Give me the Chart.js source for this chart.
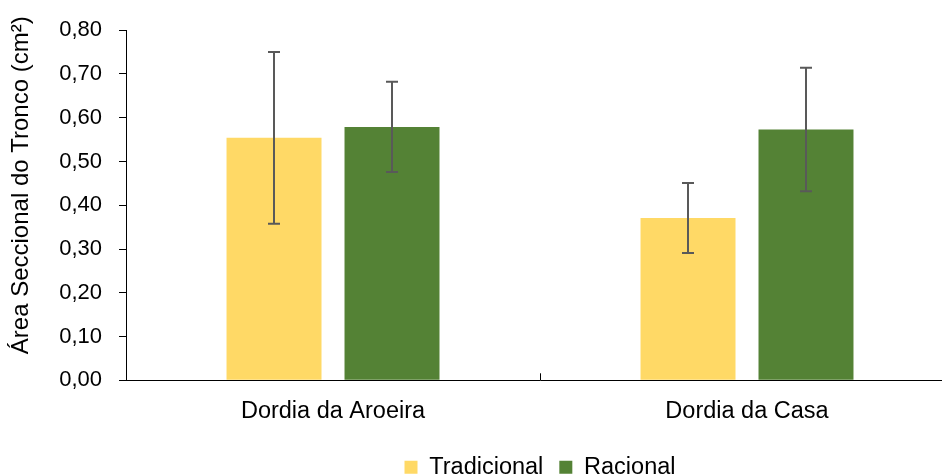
<!DOCTYPE html>
<html>
<head>
<meta charset="utf-8">
<script src="https://cdn.jsdelivr.net/npm/chart.js@4.4.0/dist/chart.umd.min.js"></script>
<style>
  html, body { margin: 0; padding: 0; background: #fff; overflow: hidden; }
  #wrap { width: 956px; height: 476px; }
</style>
</head>
<body>
<div id="wrap"><canvas id="myChart" width="956" height="476"></canvas></div>
<script>
// data
const categories = ['Dordia da Aroeira', 'Dordia da Casa'];
const seriesNames = ['Tradicional', 'Racional'];
const tradicional = [0.554, 0.371];
const racional = [0.579, 0.573];
const tradicionalErr = [0.196, 0.080];
const racionalErr = [0.103, 0.141];
const yTicks = [0, 0.1, 0.2, 0.3, 0.4, 0.5, 0.6, 0.7, 0.8];
const yTitle = 'Área Seccional do Tronco (cm²)';

const yellow = '#FFD966';
const green = '#548235';
const fontFamily = 'Liberation Sans';
const titleSize = 24;

// error bars drawn through the scales
const errorBars = {
  id: 'errorBars',
  afterDatasetsDraw(chart) {
    const { ctx, scales: { y } } = chart;
    ctx.save();
    ctx.strokeStyle = '#595959';
    ctx.lineWidth = 2;
    chart.data.datasets.forEach((ds, i) => {
      const meta = chart.getDatasetMeta(i);
      meta.data.forEach((bar, j) => {
        const v = ds.data[j], e = ds.errors[j];
        const top = y.getPixelForValue(v + e);
        const bot = y.getPixelForValue(v - e);
        const x = Math.round(bar.x);
        ctx.beginPath();
        ctx.moveTo(x, top); ctx.lineTo(x, bot);
        ctx.moveTo(x - 6, top); ctx.lineTo(x + 6, top);
        ctx.moveTo(x - 6, bot); ctx.lineTo(x + 6, bot);
        ctx.stroke();
      });
    });
    ctx.restore();
  }
};

// short tick marks between categories, inside the plot + y title (sits a bit above centre like excel)
const axisExtras = {
  id: 'axisExtras',
  afterDraw(chart) {
    const { ctx, scales: { x, y }, chartArea } = chart;
    ctx.save();
    ctx.strokeStyle = '#000';
    ctx.lineWidth = 1;
    for (let i = 0; i < categories.length - 1; i++) {
      const px = Math.round((x.getPixelForValue(i) + x.getPixelForValue(i + 1)) / 2) + 0.5;
      ctx.beginPath();
      ctx.moveTo(px, chartArea.bottom);
      ctx.lineTo(px, chartArea.bottom - 7);
      ctx.stroke();
    }
    ctx.translate(y.left + titleSize * 0.6, (chartArea.top + chartArea.bottom) / 2 - 20);
    ctx.rotate(-Math.PI / 2);
    ctx.fillStyle = '#000';
    ctx.font = `${titleSize}px "${fontFamily}"`;
    ctx.textAlign = 'center';
    ctx.textBaseline = 'middle';
    ctx.fillText(yTitle, 0, 0);
    ctx.restore();
  }
};

const data = {
  labels: categories,
  datasets: [
    { label: seriesNames[0], data: tradicional, errors: tradicionalErr, backgroundColor: yellow, borderWidth: 0 },
    { label: seriesNames[1], data: racional, errors: racionalErr, backgroundColor: green, borderWidth: 0 }
  ]
};

const config = {
  type: 'bar',
  data,
  options: {
    responsive: false,
    animation: false,
    categoryPercentage: 0.57,
    barPercentage: 0.805,
    layout: { padding: { top: 29, right: 2, left: 7, bottom: -13 } },
    plugins: {
      legend: {
        position: 'bottom',
        fullSize: false,
        labels: {
          color: '#000',
          font: { family: fontFamily, size: 23.5 },
          boxWidth: 13,
          boxHeight: 13,
          padding: 16
        }
      },
      tooltip: { enabled: false }
    },
    scales: {
      x: {
        grid: { display: false },
        border: { color: '#000', width: 1 },
        ticks: { color: '#000', font: { family: fontFamily, size: 23.5 }, padding: 9 },
        afterFit: axis => { axis.height += 5; }
      },
      y: {
        min: 0,
        max: 0.8,
        afterBuildTicks: axis => { axis.ticks = yTicks.map(v => ({ value: v })); },
        grid: { drawOnChartArea: false, drawTicks: true, tickLength: 7, tickColor: '#000' },
        border: { color: '#000', width: 1 },
        ticks: {
          color: '#000',
          font: { family: fontFamily, size: 22 },
          padding: 17,
          callback: v => v.toFixed(2).replace('.', ',')
        },
        // keeps the room for the title; the visible one is drawn by axisExtras
        title: {
          display: true,
          text: yTitle,
          color: 'rgba(0,0,0,0)',
          font: { family: fontFamily, size: 23.5 },
          padding: { top: 0, bottom: 7 }
        }
      }
    }
  },
  plugins: [errorBars, axisExtras]
};

const myChart = new Chart(document.getElementById('myChart'), config);
</script>
</body>
</html>
